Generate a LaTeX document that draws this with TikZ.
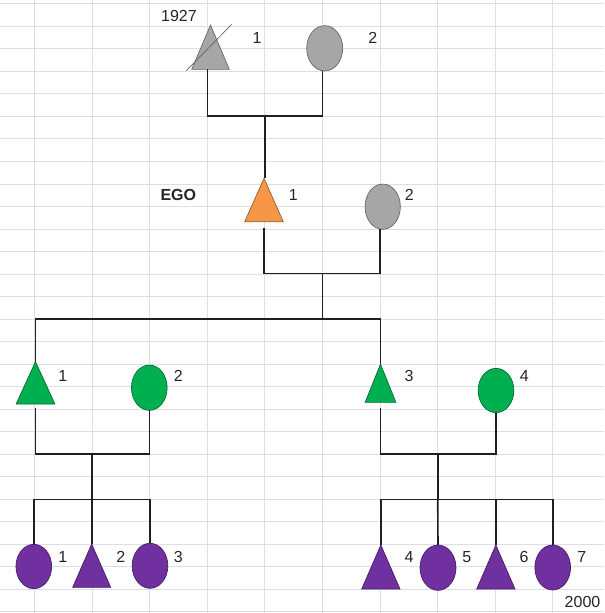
\documentclass[tikz,border=0pt]{standalone}
\usepackage{fontspec}
\setmainfont{Liberation Sans}
\usetikzlibrary{shapes.geometric}
\definecolor{gridc}{HTML}{DCDFEB}
\definecolor{pgray}{HTML}{A6A6A6}
\definecolor{porange}{HTML}{F79646}
\definecolor{pgreen}{HTML}{00B050}
\definecolor{ppurple}{HTML}{7030A0}
\newcommand\kintri[6]{%
  \node[tribox, minimum width=#4*0.75pt, minimum height=#5*0.75pt] (#1) at (#2,#3) {};
  \filldraw[draw=#6!60!black, fill=#6, line width=0.5pt] (#1.north) -- (#1.south east) -- (#1.south west) -- cycle;}
\begin{document}
\begin{tikzpicture}[x=0.75pt,y=-0.75pt,
  gridline/.style={draw=gridc, line width=0.75pt},
  kin/.style={draw=black!88, line width=1.2pt},
  tribox/.style={rectangle, inner sep=0pt, outer sep=0pt, draw=none},
  circ/.style={ellipse, inner sep=0pt, outer sep=0pt, draw=#1!60!black, fill=#1, line width=0.5pt,
    minimum width=35.7*0.75pt, minimum height=45*0.75pt},
  lab/.style={inner sep=0pt, font=\fontsize{12}{14}\selectfont, text depth=0pt, text=black!85},
  bold/.style={lab, font=\fontsize{12}{14}\selectfont\bfseries}]
\fill[white] (0,0) rectangle (604,613);
\useasboundingbox (0,0) rectangle (604,613);
% grid
\foreach \k in {0,...,9} \draw[gridline] ({34.5+57.6*\k},0) -- ({34.5+57.6*\k},613);
\foreach \k in {0,...,27} \draw[gridline] (0,{4+22.5*\k}) -- (604,{4+22.5*\k});
% generation 0
\kintri{t0}{210.5}{47.2}{37.6}{44.3}{pgray}
\draw[gray!75!black, line width=0.5pt] (186,71) -- (231.7,24.3);
\node[circ=pgray, minimum width=36*0.75pt, minimum height=45.3*0.75pt] (e0) at (324.7,48.3) {};
\node[lab] (y1927) at (179,15.7) {1927};
\node[lab] (l01) at (257,38.3) {1};
\node[lab] (l02) at (372.7,38.3) {2};
% generation 1 (EGO)
\kintri{t1}{264}{200}{38.6}{43.4}{porange}
\node[circ=pgray, minimum width=35.3*0.75pt, minimum height=45.3*0.75pt] (e1) at (382.7,206.7) {};
\node[bold] (ego) at (178.3,195) {EGO};
\node[lab] (l11) at (293.3,195) {1};
\node[lab] (l12) at (409.3,195) {2};
% generation 2
\kintri{t2}{35.5}{382.85}{38.7}{42.3}{pgreen}
\node[circ=pgreen, minimum height=45.3*0.75pt] (e2) at (149.3,387.7) {};
\kintri{t3}{380.5}{383.2}{30.7}{38.3}{pgreen}
\node[circ=pgreen, minimum height=44.3*0.75pt] (e3) at (496,390.5) {};
\node[lab] (l21) at (62.7,375.7) {1};
\node[lab] (l22) at (178.3,375.7) {2};
\node[lab] (l23) at (409,375.7) {3};
\node[lab] (l24) at (524.3,375.7) {4};
% generation 3
\node[circ=ppurple, minimum height=44.3*0.75pt] (c1) at (33.8,566.5) {};
\kintri{c2}{91.7}{565.65}{38}{43.3}{ppurple}
\node[circ=ppurple] (c3) at (150,565.8) {};
\kintri{c4}{380.85}{567}{38.3}{44}{ppurple}
\node[circ=ppurple, minimum width=36*0.75pt, minimum height=45.3*0.75pt] (c5) at (438,567.7) {};
\kintri{c6}{495.85}{567}{38.3}{44}{ppurple}
\node[circ=ppurple] (c7) at (552.7,567.5) {};
\node[lab] (l31) at (62.7,556.7) {1};
\node[lab] (l32) at (120.7,556.7) {2};
\node[lab] (l33) at (178.3,556.7) {3};
\node[lab] (l34) at (409,557) {4};
\node[lab] (l35) at (466.7,557) {5};
\node[lab] (l36) at (524,557) {6};
\node[lab] (l37) at (581.7,557) {7};
\node[lab] (y2000) at (582.5,601.7) {2000};
% connectors
\coordinate (j0) at (265,116);
\coordinate (j1) at (322.3,273.3);
\coordinate (j1b) at (322.3,318.7);
\coordinate (j2) at (91.7,453.7);
\coordinate (j2b) at (91.7,499.3);
\coordinate (j3) at (437.7,453.7);
\coordinate (j3b) at (437.7,499.3);
\draw[kin] ([xshift=-3.2*0.75pt]t0.south) |- (j0) -| ([xshift=-2.4*0.75pt]e0.south);
\draw[kin] (j0) -- (j0 |- t1.north);
\draw[kin] ([yshift=-6.6*0.75pt]t1.south) |- (j1) -| ([xshift=-2.7*0.75pt]e1.south);
\draw[kin] (j1) -- (j1b);
\draw[kin] (t2.north) |- (j1b) -| (t3.north);
\draw[kin] ([yshift=-4.3*0.75pt]t2.south) |- (j2) -| (e2.south);
\draw[kin] (j2) -- (j2b);
\draw[kin] (c1.north) |- (j2b) -| (c3.north);
\draw[kin] (j2b) -- (c2.north);
\draw[kin] ([yshift=-6*0.75pt]t3.south) |- (j3) -| (e3.south);
\draw[kin] (j3) -- (j3b);
\draw[kin] (c4.north) |- (j3b) -| (c7.north);
\draw[kin] (j3b) -- (c5.north);
\draw[kin] (c6.north) -- (c6.north |- j3b);
\end{tikzpicture}
\end{document}
